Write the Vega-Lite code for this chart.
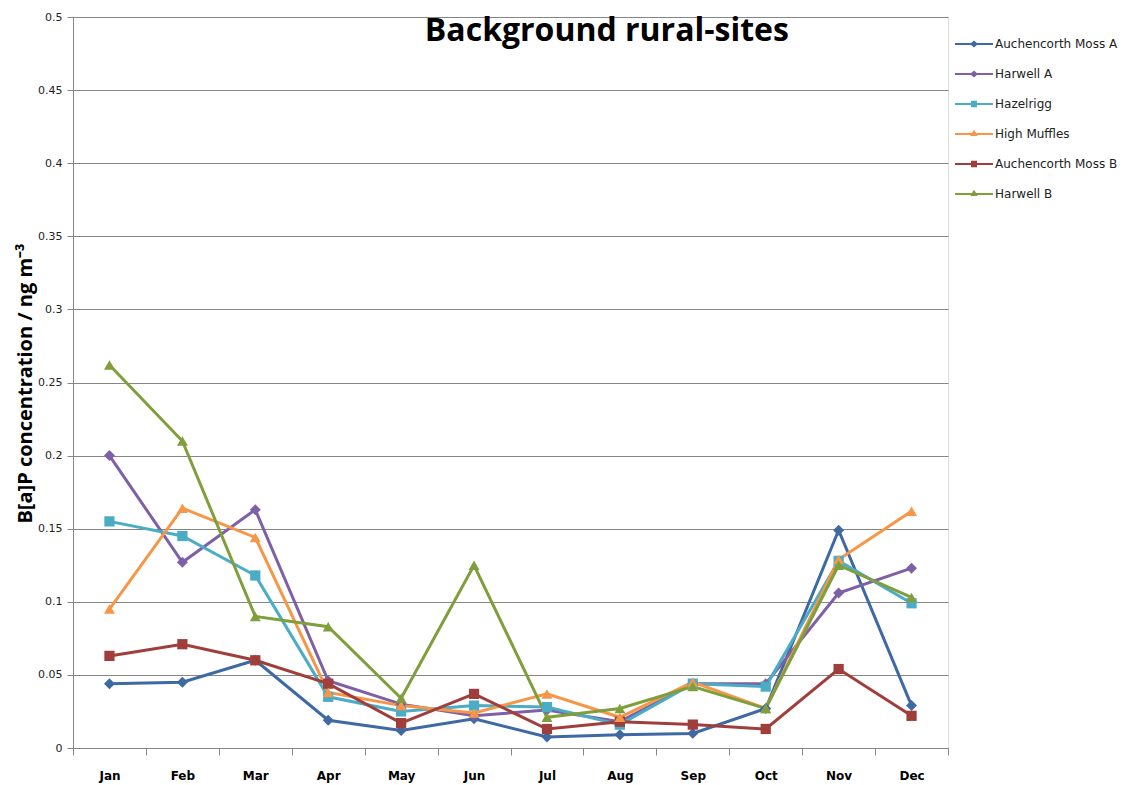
{
  "$schema": "https://vega.github.io/schema/vega-lite/v6.json",
  "autosize": "none",
  "width": 875,
  "height": 731,
  "padding": {"left": 73, "top": 17, "right": 193, "bottom": 37},
  "background": "white",
  "datasets": {
    "series": [
      {"month": "Jan", "site": "Auchencorth Moss A", "value": 0.044},
      {"month": "Feb", "site": "Auchencorth Moss A", "value": 0.045},
      {"month": "Mar", "site": "Auchencorth Moss A", "value": 0.060},
      {"month": "Apr", "site": "Auchencorth Moss A", "value": 0.019},
      {"month": "May", "site": "Auchencorth Moss A", "value": 0.012},
      {"month": "Jun", "site": "Auchencorth Moss A", "value": 0.020},
      {"month": "Jul", "site": "Auchencorth Moss A", "value": 0.0075},
      {"month": "Aug", "site": "Auchencorth Moss A", "value": 0.009},
      {"month": "Sep", "site": "Auchencorth Moss A", "value": 0.010},
      {"month": "Oct", "site": "Auchencorth Moss A", "value": 0.027},
      {"month": "Nov", "site": "Auchencorth Moss A", "value": 0.149},
      {"month": "Dec", "site": "Auchencorth Moss A", "value": 0.029},
      {"month": "Jan", "site": "Harwell A", "value": 0.200},
      {"month": "Feb", "site": "Harwell A", "value": 0.127},
      {"month": "Mar", "site": "Harwell A", "value": 0.163},
      {"month": "Apr", "site": "Harwell A", "value": 0.046},
      {"month": "May", "site": "Harwell A", "value": 0.030},
      {"month": "Jun", "site": "Harwell A", "value": 0.022},
      {"month": "Jul", "site": "Harwell A", "value": 0.026},
      {"month": "Aug", "site": "Harwell A", "value": 0.018},
      {"month": "Sep", "site": "Harwell A", "value": 0.044},
      {"month": "Oct", "site": "Harwell A", "value": 0.044},
      {"month": "Nov", "site": "Harwell A", "value": 0.106},
      {"month": "Dec", "site": "Harwell A", "value": 0.123},
      {"month": "Jan", "site": "Hazelrigg", "value": 0.155},
      {"month": "Feb", "site": "Hazelrigg", "value": 0.145},
      {"month": "Mar", "site": "Hazelrigg", "value": 0.118},
      {"month": "Apr", "site": "Hazelrigg", "value": 0.035},
      {"month": "May", "site": "Hazelrigg", "value": 0.025},
      {"month": "Jun", "site": "Hazelrigg", "value": 0.029},
      {"month": "Jul", "site": "Hazelrigg", "value": 0.028},
      {"month": "Aug", "site": "Hazelrigg", "value": 0.016},
      {"month": "Sep", "site": "Hazelrigg", "value": 0.044},
      {"month": "Oct", "site": "Hazelrigg", "value": 0.042},
      {"month": "Nov", "site": "Hazelrigg", "value": 0.128},
      {"month": "Dec", "site": "Hazelrigg", "value": 0.099},
      {"month": "Jan", "site": "High Muffles", "value": 0.095},
      {"month": "Feb", "site": "High Muffles", "value": 0.164},
      {"month": "Mar", "site": "High Muffles", "value": 0.144},
      {"month": "Apr", "site": "High Muffles", "value": 0.038},
      {"month": "May", "site": "High Muffles", "value": 0.029},
      {"month": "Jun", "site": "High Muffles", "value": 0.024},
      {"month": "Jul", "site": "High Muffles", "value": 0.037},
      {"month": "Aug", "site": "High Muffles", "value": 0.021},
      {"month": "Sep", "site": "High Muffles", "value": 0.045},
      {"month": "Oct", "site": "High Muffles", "value": 0.027},
      {"month": "Nov", "site": "High Muffles", "value": 0.129},
      {"month": "Dec", "site": "High Muffles", "value": 0.162},
      {"month": "Jan", "site": "Auchencorth Moss B", "value": 0.063},
      {"month": "Feb", "site": "Auchencorth Moss B", "value": 0.071},
      {"month": "Mar", "site": "Auchencorth Moss B", "value": 0.060},
      {"month": "Apr", "site": "Auchencorth Moss B", "value": 0.044},
      {"month": "May", "site": "Auchencorth Moss B", "value": 0.017},
      {"month": "Jun", "site": "Auchencorth Moss B", "value": 0.037},
      {"month": "Jul", "site": "Auchencorth Moss B", "value": 0.013},
      {"month": "Aug", "site": "Auchencorth Moss B", "value": 0.018},
      {"month": "Sep", "site": "Auchencorth Moss B", "value": 0.016},
      {"month": "Oct", "site": "Auchencorth Moss B", "value": 0.013},
      {"month": "Nov", "site": "Auchencorth Moss B", "value": 0.054},
      {"month": "Dec", "site": "Auchencorth Moss B", "value": 0.022},
      {"month": "Jan", "site": "Harwell B", "value": 0.262},
      {"month": "Feb", "site": "Harwell B", "value": 0.210},
      {"month": "Mar", "site": "Harwell B", "value": 0.090},
      {"month": "Apr", "site": "Harwell B", "value": 0.083},
      {"month": "May", "site": "Harwell B", "value": 0.034},
      {"month": "Jun", "site": "Harwell B", "value": 0.125},
      {"month": "Jul", "site": "Harwell B", "value": 0.021},
      {"month": "Aug", "site": "Harwell B", "value": 0.027},
      {"month": "Sep", "site": "Harwell B", "value": 0.042},
      {"month": "Oct", "site": "Harwell B", "value": 0.027},
      {"month": "Nov", "site": "Harwell B", "value": 0.125},
      {"month": "Dec", "site": "Harwell B", "value": 0.103}
    ],
    "heading": [{"label": "Background rural-sites", "month": "Aug", "value": 0.4835}]
  },
  "data": {"name": "series"},
  "encoding": {
    "x": {
      "field": "month",
      "type": "ordinal",
      "sort": ["Jan","Feb","Mar","Apr","May","Jun","Jul","Aug","Sep","Oct","Nov","Dec"],
      "scale": {"type": "band", "paddingInner": 0, "paddingOuter": 0, "domain": ["Jan","Feb","Mar","Apr","May","Jun","Jul","Aug","Sep","Oct","Nov","Dec"]},
      "axis": {
        "title": null,
        "labelAngle": 0,
        "tickBand": "extent",
        "grid": false,
        "domainColor": "#868686",
        "tickColor": "#868686",
        "tickSize": 7,
        "labelPadding": 15,
        "labelFont": "DejaVu Sans",
        "labelFontSize": 12,
        "labelFontWeight": "bold",
        "labelColor": "#000000"
      }
    },
    "y": {
      "field": "value",
      "type": "quantitative",
      "scale": {"domain": [0, 0.5], "nice": false},
      "axis": {
        "values": [0,0.05,0.1,0.15,0.2,0.25,0.3,0.35,0.4,0.45,0.5],
        "format": "~g",
        "title": "B[a]P concentration / ng m⁻³",
        "titleFont": "Open Sans",
        "titleFontSize": 20,
        "titleFontWeight": "bold",
        "titleColor": "#000000",
        "titleX": -38,
        "titleY": 366,
        "grid": true,
        "gridColor": "#868686",
        "gridWidth": 1,
        "domainColor": "#868686",
        "tickColor": "#868686",
        "tickSize": 6,
        "labelPadding": 5,
        "labelFont": "DejaVu Sans",
        "labelFontSize": 11,
        "labelColor": "#222222"
      }
    }
  },
  "layer": [
    {
      "mark": {"type": "line", "strokeWidth": 3},
      "encoding": {
        "color": {
          "field": "site",
          "type": "nominal",
          "sort": ["Auchencorth Moss A","Harwell A","Hazelrigg","High Muffles","Auchencorth Moss B","Harwell B"],
          "scale": {
            "domain": ["Auchencorth Moss A","Harwell A","Hazelrigg","High Muffles","Auchencorth Moss B","Harwell B"],
            "range": ["#3E69A3","#7E60A6","#4BACC6","#F79646","#A03E3B","#7F9E3C"]
          },
          "legend": {
            "title": null,
            "orient": "none",
            "legendX": 882,
            "legendY": 12,
            "labelFont": "DejaVu Sans",
            "labelFontSize": 12,
            "labelColor": "#222222",
            "symbolSize": 1444,
            "symbolStrokeWidth": 0,
            "rowPadding": 0,
            "labelOffset": 2,
            "clipHeight": 30,
            "encode": {
              "symbols": {
                "update": {
                  "shape": {"signal": "(datum.value === 'Hazelrigg' || datum.value === 'Auchencorth Moss B') ? 'M-1,-0.05H-0.16V-0.17H0.16V-0.05H1V0.05H0.16V0.17H-0.16V0.05H-1Z' : (datum.value === 'High Muffles' || datum.value === 'Harwell B') ? 'M-1,-0.05H-0.11L0,-0.22L0.11,-0.05H1V0.05H0.17L0.19,0.11H-0.19L-0.17,0.05H-1Z' : 'M-1,-0.05H-0.15L0,-0.19L0.15,-0.05H1V0.05H0.15L0,0.19L-0.15,0.05H-1Z'"},
                  "fill": {"scale": "color", "field": "value"},
                  "stroke": {"value": "transparent"},
                  "opacity": {"value": 1}
                }
              }
            }
          }
        }
      }
    },
    {
      "transform": [{"filter": "datum.site === 'Auchencorth Moss A' || datum.site === 'Harwell A'"}],
      "mark": {"type": "point", "shape": "diamond", "filled": true, "opacity": 1, "size": 120},
      "encoding": {"color": {"field": "site", "type": "nominal", "legend": null}}
    },
    {
      "transform": [{"filter": "datum.site === 'Hazelrigg' || datum.site === 'Auchencorth Moss B'"}],
      "mark": {"type": "point", "shape": "square", "filled": true, "opacity": 1, "size": 105},
      "encoding": {"color": {"field": "site", "type": "nominal", "legend": null}}
    },
    {
      "transform": [{"filter": "datum.site === 'High Muffles' || datum.site === 'Harwell B'"}],
      "mark": {"type": "point", "shape": "triangle-up", "filled": true, "opacity": 1, "size": 120},
      "encoding": {"color": {"field": "site", "type": "nominal", "legend": null}}
    },
    {
      "data": {"name": "heading"},
      "mark": {"type": "text", "font": "Open Sans", "fontSize": 32, "fontWeight": "bold", "color": "#000000", "align": "center", "baseline": "alphabetic", "dx": -13},
      "encoding": {"text": {"field": "label"}}
    }
  ]
}
